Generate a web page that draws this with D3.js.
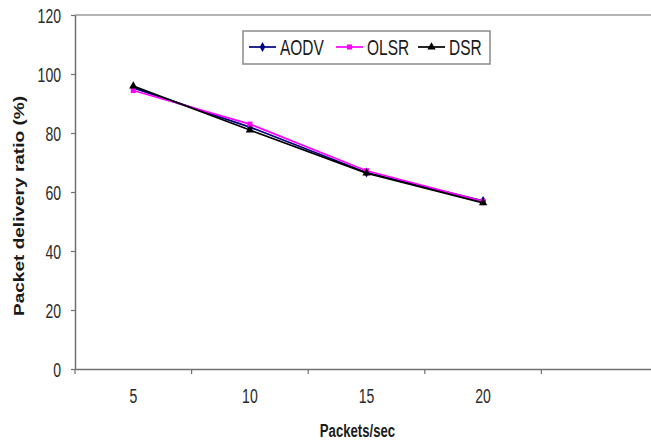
<!DOCTYPE html>
<html><head><meta charset="utf-8">
<script src="https://cdn.jsdelivr.net/npm/d3@7"></script>
<style>
html,body{margin:0;padding:0;background:#fff;}
svg{display:block;font-family:"Liberation Sans",Arial,sans-serif;}
</style></head>
<body>
<svg id="chart" width="651" height="446"></svg>
<script>
const categories = ["5", "10", "15", "20", ""];
const yTicks = [0, 20, 40, 60, 80, 100, 120];
const aodv = [95.3, 82.0, 66.6, 57.0];
const olsr = [94.4, 83.0, 67.2, 56.8];
const dsr  = [95.9, 81.0, 66.4, 56.3];
const seriesNames = ["AODV", "OLSR", "DSR"];

(function () {
const series = [
  {name: seriesNames[0], values: aodv, color: "#000080", symbol: d3.symbolDiamond, size: 28},
  {name: seriesNames[1], values: olsr, color: "#ff00ff", symbol: d3.symbolSquare, size: 26},
  {name: seriesNames[2], values: dsr,  color: "#000000", symbol: d3.symbolTriangle, size: 30}
];

const svg = d3.select("#chart");
const pl = 75, pr = 658, pt = 15, pb = 369;

const x = d3.scaleBand().domain(categories).range([pl, pr]).paddingInner(0).paddingOuter(0);
const y = d3.scaleLinear().domain([0, 120]).range([pb, pt]);
const cx = c => x(c) + x.bandwidth() / 2;

// top border line
svg.append("line").attr("x1", pl).attr("x2", 651).attr("y1", y(120)).attr("y2", y(120))
  .attr("stroke", "#9a9a9a").attr("stroke-width", 1.5);

// y axis
const yAxis = svg.append("g").attr("transform", `translate(${pl},0)`)
  .call(d3.axisLeft(y).tickValues(yTicks).tickSize(4).tickSizeOuter(0));
yAxis.select(".domain").attr("stroke", "#707070").attr("stroke-width", 1.5);
yAxis.selectAll(".tick line").attr("stroke", "#707070").attr("stroke-width", 1.2);
yAxis.selectAll(".tick text")
  .attr("x", -14 / 0.72).attr("dy", "0.36em")
  .attr("transform", "scale(0.72,1)")
  .attr("font-size", 19.5).attr("fill", "#2a2a2a")
  .attr("font-family", "Liberation Sans, Arial, sans-serif");

// x axis
const xAxis = svg.append("g").attr("transform", `translate(0,${pb})`)
  .call(d3.axisBottom(x).tickSize(0).tickSizeOuter(0));
xAxis.select(".domain").attr("stroke", "#707070").attr("stroke-width", 1.5);
xAxis.selectAll(".tick line").remove();
xAxis.selectAll(".tick text")
  .attr("y", 34).attr("dy", 0)
  .attr("transform", "scale(0.72,1)")
  .attr("font-size", 19.5).attr("fill", "#2a2a2a")
  .attr("font-family", "Liberation Sans, Arial, sans-serif");
// category boundary ticks
const bounds = categories.map(c => x(c)).concat([x(categories[categories.length-1]) + x.bandwidth()]);
svg.append("g").selectAll("line").data(bounds).join("line")
  .attr("x1", d => d).attr("x2", d => d).attr("y1", pb).attr("y2", pb + 5)
  .attr("stroke", "#707070").attr("stroke-width", 1.2);

// axis titles
svg.append("text")
  .attr("transform", "translate(357.5,437) scale(0.7,1)")
  .attr("text-anchor", "middle").attr("font-weight", "bold").attr("font-size", 18.8)
  .attr("fill", "#1a1a1a").text("Packets/sec");
svg.append("text")
  .attr("transform", "translate(24,206) rotate(-90) scale(1.27,1)")
  .attr("text-anchor", "middle").attr("font-weight", "bold").attr("font-size", 15)
  .attr("fill", "#1a1a1a").text("Packet delivery ratio (%)");

// lines and markers
const line = d3.line().x((d, i) => cx(categories[i])).y(d => y(d));
series.forEach(s => {
  svg.append("path").datum(s.values).attr("d", line)
    .attr("fill", "none").attr("stroke", s.color).attr("stroke-width", 1.7);
  svg.append("g").selectAll("path").data(s.values).join("path")
    .attr("transform", (d, i) => `translate(${cx(categories[i])},${y(d)})`)
    .attr("d", d3.symbol().type(s.symbol).size(s.size))
    .attr("fill", s.color);
});

// legend
const lg = svg.append("g");
lg.append("rect").attr("x", 243).attr("y", 31).attr("width", 247).attr("height", 33)
  .attr("fill", "#fff").attr("stroke", "#8a8a8a").attr("stroke-width", 1.5);
const legendX = [249, 336, 418];
series.forEach((s, i) => {
  const lx = legendX[i];
  lg.append("line").attr("x1", lx).attr("x2", lx + 27).attr("y1", 47).attr("y2", 47)
    .attr("stroke", s.color).attr("stroke-width", 1.7);
  lg.append("path").attr("transform", `translate(${lx + 13.5},47)`)
    .attr("d", d3.symbol().type(s.symbol).size(s.size)).attr("fill", s.color);
  lg.append("text").attr("transform", `translate(${lx + 31},55) scale(0.72,1)`)
    .attr("font-size", 21.5).attr("fill", "#1a1a1a").text(s.name);
});
})();
</script>
</body></html>
